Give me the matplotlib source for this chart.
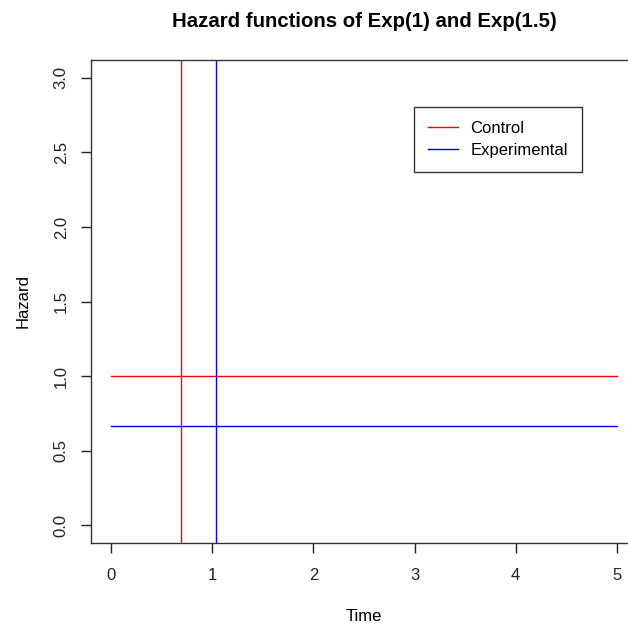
import numpy as np
import matplotlib
matplotlib.use("Agg")
import matplotlib.pyplot as plt

plt.rcParams['font.family'] = ['Liberation Sans', 'DejaVu Sans']

# hazard rates (constant) and medians of the two groups
groups = ["Control", "Experimental"]
colors = ["red", "blue"]
hazards = [1.0, 1 / 1.5]
medians = [np.log(2), 1.5 * np.log(2)]
t_range = [0, 5]

xticks = [0, 1, 2, 3, 4, 5]
yticks = [0.0, 0.5, 1.0, 1.5, 2.0, 2.5, 3.0]

fig = plt.figure(figsize=(6.28, 6.25), dpi=100)
ax = fig.add_axes([0.1449, 0.1312, 0.8694, 0.7728])

for g, c, h, m in zip(groups, colors, hazards, medians):
    ax.plot(t_range, [h, h], color=c, lw=1, label=g)
    ax.axvline(m, color=c, lw=1)

ax.set_xlim(-0.2, 5.2)
ax.set_ylim(-0.12, 3.12)
ax.set_xticks(xticks)
ax.set_xticklabels([str(x) for x in xticks])
ax.set_yticks(yticks)
ax.set_yticklabels(["%.1f" % y for y in yticks], rotation=90, va="center")
ax.tick_params(axis="both", length=7, width=1, labelsize=12, colors="#222222", pad=9)
ax.tick_params(axis="x", pad=11)
for s in ax.spines.values():
    s.set_linewidth(1)
    s.set_color("#333333")

ax.set_xlabel("Time", fontsize=12, labelpad=19)
ax.set_ylabel("Hazard", fontsize=12, labelpad=17)
ax.set_title("Hazard functions of Exp(1) and Exp(1.5)", fontsize=14.7, fontweight="bold", pad=24)

leg = ax.legend(loc="upper left", bbox_to_anchor=(0.5916, 0.9027), borderaxespad=0,
                fontsize=12, frameon=True, fancybox=False, edgecolor="black",
                handlelength=1.8, handletextpad=0.72, borderpad=0.85, labelspacing=0.4)
leg.get_frame().set_linewidth(1)

fig.savefig("out.png", dpi=100)
